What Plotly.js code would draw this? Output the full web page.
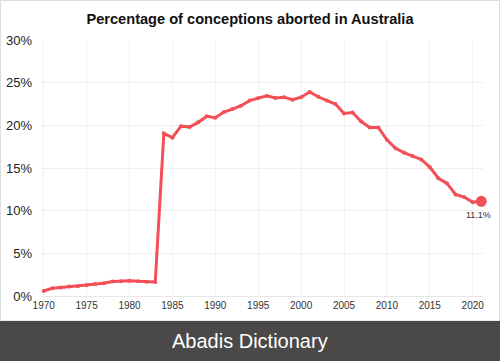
<!DOCTYPE html>
<html>
<head>
<meta charset="utf-8">
<script src="https://cdn.plot.ly/plotly-3.0.1.min.js"></script>
<style>
html,body{margin:0;padding:0;background:#fff;}
#chart{width:500px;height:361px;}
</style>
</head>
<body>
<div id="chart"></div>
<script>
var years = [1970,1971,1972,1973,1974,1975,1976,1977,1978,1979,1980,1981,1982,1983,1984,1985,1986,1987,1988,1989,1990,1991,1992,1993,1994,1995,1996,1997,1998,1999,2000,2001,2002,2003,2004,2005,2006,2007,2008,2009,2010,2011,2012,2013,2014,2015,2016,2017,2018,2019,2020,2021];
var abortedPct = [0.6,0.9,1.0,1.1,1.15,1.25,1.4,1.5,1.7,1.72,1.8,1.72,1.68,1.64,19.05,18.55,19.9,19.8,20.35,21.05,20.9,21.55,21.9,22.3,22.9,23.2,23.45,23.2,23.3,23.0,23.3,23.9,23.35,22.9,22.5,21.4,21.5,20.45,19.75,19.75,18.3,17.3,16.8,16.4,16.0,15.1,13.8,13.2,11.9,11.6,11.0,11.1];
var xTicks = [1970,1975,1980,1985,1990,1995,2000,2005,2010,2015,2020];
var yTicks = [0,5,10,15,20,25,30];
var yTickLabels = ["0%","5%","10%","15%","20%","25%","30%"];
var lastLabel = "11.1%";
var titleText = "Percentage of conceptions aborted in Australia";
var bannerText = "Abadis Dictionary";

var red = "#f24f56";
var lastX = years[years.length-1];
var lastY = abortedPct[abortedPct.length-1];

var traces = [
  {x: years, y: abortedPct, type: "scatter", mode: "lines+markers",
   line: {color: red, width: 3}, marker: {color: red, size: 4},
   cliponaxis: false, hoverinfo: "x+y", showlegend: false},
  {x: [lastX], y: [lastY], type: "scatter", mode: "markers",
   marker: {color: red, size: 11}, cliponaxis: false, showlegend: false}
];

// plot area: x 42..483, y 40..296
var pl = 42, pw = 441, pt = 40, ph = 256;
function px(xp){ return (xp - pl) / pw; }
function py(yp){ return (pt + ph - yp) / ph; }

var layout = {
  width: 500, height: 361,
  margin: {l: 42, r: 17, t: 40, b: 65},
  paper_bgcolor: "#ffffff", plot_bgcolor: "#ffffff",
  font: {family: "Liberation Sans, Arial, sans-serif", color: "#222"},
  title: {text: "<b>" + titleText + "</b>", font: {size: 14.6, color: "#111"},
          x: 0.5, xanchor: "center", y: 1 - 19/361, yanchor: "middle"},
  xaxis: {range: [1969.8, 2021.2], tickvals: xTicks, ticktext: xTicks.map(String),
          showgrid: true, gridcolor: "#f4f1f3", gridwidth: 1,
          zeroline: false, showline: true, linecolor: "#e6e6e6", linewidth: 1,
          ticks: "", tickfont: {size: 10, color: "#333"}},
  yaxis: {range: [0, 30], tickvals: yTicks, ticktext: yTickLabels,
          showgrid: true, gridcolor: "#eeeeee", gridwidth: 1,
          zeroline: false, showline: false, ticks: "", ticklabelstandoff: 9,
          tickfont: {size: 13, color: "#222"}},
  shapes: [
    {type: "rect", xref: "paper", yref: "paper", x0: px(0), x1: px(500), y0: py(361), y1: py(321),
     fillcolor: "#4a4849", line: {width: 0}, layer: "above"},
    {type: "rect", xref: "paper", yref: "paper", x0: px(0.5), x1: px(499.5), y0: py(321), y1: py(0.5),
     fillcolor: "rgba(0,0,0,0)", line: {width: 1, color: "#dddddd"}, layer: "below"}
  ],
  annotations: [
    {xref: "paper", yref: "paper", x: px(250), y: py(341), text: bannerText, showarrow: false,
     xanchor: "center", yanchor: "middle", font: {size: 20, color: "#ffffff", family: "Liberation Sans, Arial, sans-serif"}},
    {x: lastX, y: lastY, xref: "x", yref: "y", text: lastLabel, showarrow: false,
     xanchor: "center", yanchor: "top", yshift: -7, xshift: -3, font: {size: 9, color: "#333"}}
  ]
};

Plotly.newPlot("chart", traces, layout, {displayModeBar: false, staticPlot: true});
</script>
</body>
</html>
